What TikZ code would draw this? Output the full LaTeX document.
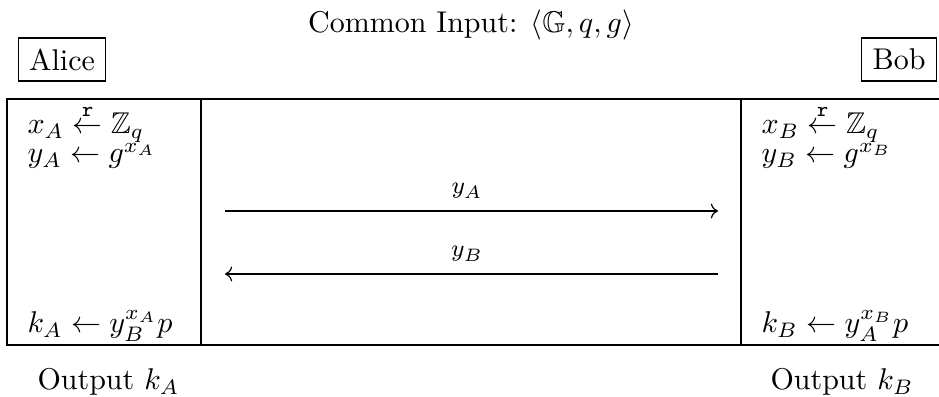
\documentclass[tikz,border=0pt]{standalone}
\usepackage{amsmath,amssymb}
\usetikzlibrary{arrows.meta}
\begin{document}
\begin{tikzpicture}[x=0.3333pt,y=-0.3333pt,
  lbl/.style={inner sep=0pt,anchor=base west},
  party/.style={draw,line width=0.4pt,inner xsep=3.6pt,inner ysep=0pt,minimum height=14.3pt},
  msg/.style={inner sep=0pt,anchor=base,font=\footnotesize},
  rule/.style={line width=0.45pt},
  send/.style={-{Computer Modern Rightarrow[length=2.4pt,width=5pt]},line width=0.4pt}]
\path[use as bounding box] (0,0) rectangle (939,397);
% header
\node[inner sep=0pt,anchor=base] (common) at (471,33) {Common Input: $\langle \mathbb{G}, q, g\rangle$};
\node[party] (alice) at (62,59.5) {Alice};
\node[party] (bob) at (899,59.5) {Bob};
% frame
\draw[rule] (939,99) -- (7,99) -- (7,345) -- (939,345);
\draw[rule] (201,99) -- (201,345);
\draw[rule] (741,99) -- (741,345);
% Alice column
\node[lbl] (a1) at (27,134) {$x_A \stackrel{\mathtt{r}}{\leftarrow} \mathbb{Z}_q$};
\node[lbl] (a2) at (27,163) {$y_A \leftarrow g^{x_A}$};
\node[lbl] (a3) at (27,333) {$k_A \leftarrow y_B^{x_A} p$};
% Bob column
\node[lbl] (b1) at (761,134) {$x_B \stackrel{\mathtt{r}}{\leftarrow} \mathbb{Z}_q$};
\node[lbl] (b2) at (761,163) {$y_B \leftarrow g^{x_B}$};
\node[lbl] (b3) at (761,333) {$k_B \leftarrow y_A^{x_B} p$};
% messages
\coordinate (m1l) at (225,211);
\coordinate (m1r) at (718,211);
\coordinate (m2l) at (225,274);
\coordinate (m2r) at (718,274);
\draw[send] (m1l) -- (m1r);
\draw[send] (m2r) -- (m2l);
\node[msg] (lA) at (467,194) {$y_A$};
\node[msg] (lB) at (467,257) {$y_B$};
% outputs
\node[lbl] (oA) at (37,390) {Output $k_A$};
\node[lbl] (oB) at (770,390) {Output $k_B$};
\end{tikzpicture}
\end{document}
